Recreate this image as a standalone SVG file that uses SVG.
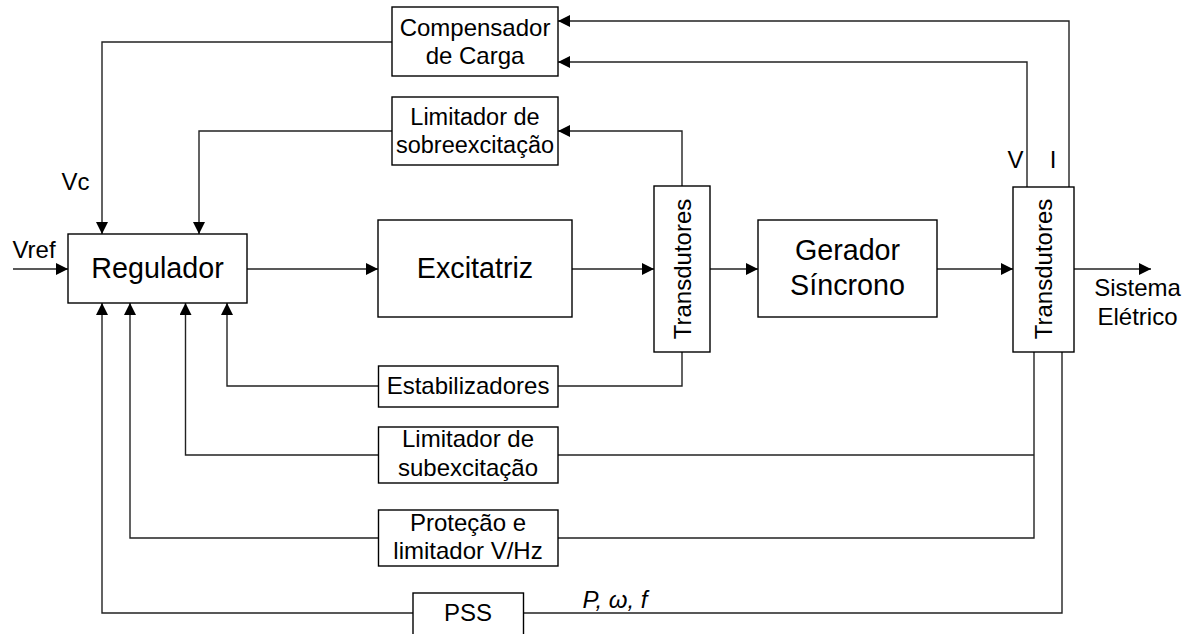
<svg xmlns="http://www.w3.org/2000/svg" width="1191" height="634" viewBox="0 0 1191 634">
<style>
.box{fill:#fff;stroke:#000;stroke-width:1.4}
.ln{fill:none;stroke:#222;stroke-width:1.4}
.t{font-family:"Liberation Sans",Arial,sans-serif;fill:#000;text-anchor:middle}
.big{font-size:28.7px}
.sm{font-size:23.5px}
.md{font-size:24px}
.it{font-style:italic}
</style>
<defs>
<marker id="ah" markerUnits="userSpaceOnUse" markerWidth="12" markerHeight="12" refX="12" refY="6" orient="auto">
<path d="M0,0 L12,6 L0,12 z" fill="#000"/>
</marker>
</defs>
<rect width="1191" height="634" fill="#fff"/>
<g id="connectors">
<path class="ln" d="M13,269 H68" marker-end="url(#ah)"/>
<path class="ln" d="M247,269 H378" marker-end="url(#ah)"/>
<path class="ln" d="M572,269 H654" marker-end="url(#ah)"/>
<path class="ln" d="M710,269 H758" marker-end="url(#ah)"/>
<path class="ln" d="M937,269 H1013" marker-end="url(#ah)"/>
<path class="ln" d="M1074,269 H1151" marker-end="url(#ah)"/>
<path class="ln" d="M1069,187 V21 H558" marker-end="url(#ah)"/>
<path class="ln" d="M1027,187 V62 H558" marker-end="url(#ah)"/>
<path class="ln" d="M392,42 H102 V234" marker-end="url(#ah)"/>
<path class="ln" d="M682,186 V131 H558" marker-end="url(#ah)"/>
<path class="ln" d="M392,131 H199 V234" marker-end="url(#ah)"/>
<path class="ln" d="M682,352 V386 H558"/>
<path class="ln" d="M378.5,386 H227 V303" marker-end="url(#ah)"/>
<path class="ln" d="M1034,352 V538 H558"/>
<path class="ln" d="M1034,455 H558"/>
<path class="ln" d="M378.5,455 H185.5 V303" marker-end="url(#ah)"/>
<path class="ln" d="M378.5,538 H130 V303" marker-end="url(#ah)"/>
<path class="ln" d="M1062,352 V613 H523.5"/>
<path class="ln" d="M413,613 H102 V303" marker-end="url(#ah)"/>
</g>
<g id="regulador"><rect class="box" x="68" y="234" width="179" height="69"/><text class="t big" x="157.5" y="278">Regulador</text></g>
<g id="excitatriz"><rect class="box" x="378" y="220" width="194" height="97"/><text class="t big" x="475" y="278">Excitatriz</text></g>
<g id="transdutores1"><rect class="box" x="654" y="186" width="56" height="166"/><text class="t md" transform="translate(690.5,269) rotate(-90)">Transdutores</text></g>
<g id="gerador"><rect class="box" x="758" y="220" width="179" height="97"/><text class="t big" x="847.5" y="260">Gerador</text><text class="t big" x="847.5" y="295">Síncrono</text></g>
<g id="transdutores2"><rect class="box" x="1013" y="187" width="61" height="165"/><text class="t md" transform="translate(1052,269) rotate(-90)">Transdutores</text></g>
<g id="compensador"><rect class="box" x="392" y="7" width="166" height="69"/><text class="t md" x="475" y="36">Compensador</text><text class="t md" x="475" y="64">de Carga</text></g>
<g id="lim-sobre"><rect class="box" x="392" y="97" width="166" height="68"/><text class="t sm" x="475" y="125">Limitador de</text><text class="t sm" x="475" y="153">sobreexcitação</text></g>
<g id="estabilizadores"><rect class="box" x="378.5" y="366" width="179.5" height="41"/><text class="t md" x="468" y="394">Estabilizadores</text></g>
<g id="lim-sub"><rect class="box" x="378.5" y="427" width="179.5" height="56"/><text class="t md" x="468" y="447">Limitador de</text><text class="t md" x="468" y="476">subexcitação</text></g>
<g id="protecao"><rect class="box" x="378.5" y="510" width="179.5" height="56"/><text class="t md" x="468" y="531">Proteção e</text><text class="t md" x="468" y="559">limitador V/Hz</text></g>
<g id="pss"><rect class="box" x="413" y="593" width="110.5" height="50"/><text class="t md" x="468" y="621">PSS</text></g>
<g id="labels">
<text class="t md" x="34" y="258">Vref</text>
<text class="t md" x="75.5" y="190">Vc</text>
<text class="t md" x="1015.5" y="168">V</text>
<text class="t md" x="1053" y="168">I</text>
<text class="t md" x="1137.5" y="296">Sistema</text>
<text class="t md" x="1137.5" y="325">Elétrico</text>
<text class="t md it" x="615" y="608">P, ω, f</text>
</g>
</svg>
